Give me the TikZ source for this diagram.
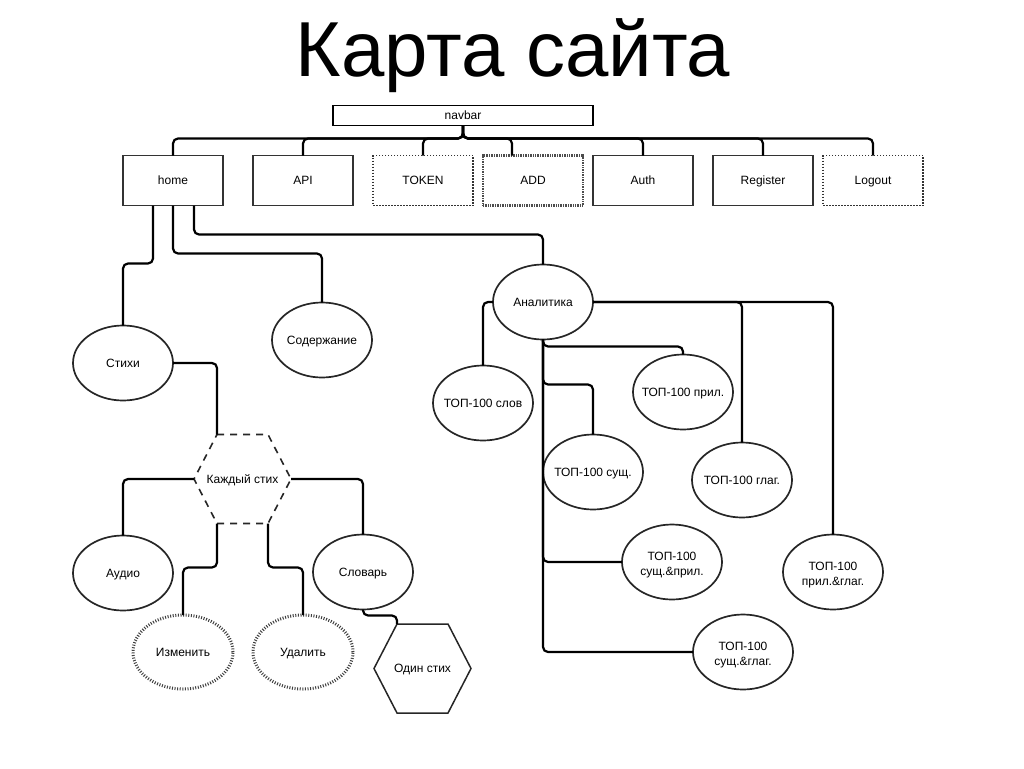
\documentclass[tikz,border=0pt]{standalone}
\usepackage{fontspec}
\setmainfont{Liberation Sans}
\usetikzlibrary{shapes.geometric,calc}
\begin{document}
\begin{tikzpicture}[x=1pt,y=-1pt,
  every node/.style={font=\fontsize{12}{14}\selectfont, inner sep=0pt, outer sep=0pt, text height=9.6pt, text depth=1.6pt},
  box/.style={draw=black!80, line width=1.6pt, minimum width=100pt, minimum height=50pt},
  dotbox/.style={draw=black!80, line width=1.5pt, dash pattern=on 1.5pt off 1.5pt, minimum width=100pt, minimum height=50pt},
  densebox/.style={draw=black!70, line width=2.2pt, dash pattern=on 1pt off 0.7pt, minimum width=100pt, minimum height=50pt},
  oval/.style={ellipse, draw=black!85, line width=1.7pt, minimum width=100pt, minimum height=75pt, align=center, inner xsep=-14pt},
  twoline/.style={text height=29.6pt, text depth=2.6pt, font=\fontsize{12}{15}\selectfont},
  dotoval/.style={ellipse, draw=black!75, line width=3pt, dash pattern=on 1pt off 1.6pt, minimum width=100pt, minimum height=74pt, inner xsep=-14pt},
  hexline/.style={draw=black!85, line width=1.5pt},
  hexdash/.style={draw=black!85, line width=1.6pt, dash pattern=on 7pt off 6pt},
  conn/.style={draw=black, line width=2.2pt, rounded corners=5pt},
]
\useasboundingbox (0,0) rectangle (1024,768);

% title
\node[font=\fontsize{78}{90}\selectfont, anchor=base, text height=, text depth=] (title) at (513,77) {Карта сайта};

% navbar and top row
\node[draw=black, line width=1.2pt, minimum width=260pt, minimum height=20pt] (navbar) at (463,115.5) {navbar};
\node[box] (home) at (173,180.5) {home};
\node[box] (api) at (303,180.5) {API};
\node[dotbox] (token) at (423,180.5) {TOKEN};
\node[densebox] (add) at (533,180.5) {ADD};
\node[box] (auth) at (643,180.5) {Auth};
\node[box] (reg) at (763,180.5) {Register};
\node[dotbox] (logout) at (873,180.5) {Logout};

\foreach \n in {home,api,token,auth,reg,logout}{
  \draw[conn] (navbar.south) -- ++(0,13) -| (\n.north);
}
\draw[conn] (navbar.south) -- ++(0,13) -| ($(add.north)+(-21,0)$);

% home subtree
\node[oval] (stihi) at (123,363) {Стихи};
\node[oval] (soder) at (322,340) {Содержание};
\node[oval] (anal) at (543,302) {Аналитика};

\draw[conn] ($(home.south)+(-20,0)$) -- ++(0,58) -| (stihi.north);
\draw[conn] (home.south) -- ++(0,48) -| (soder.north);
\draw[conn] ($(home.south)+(21,0)$) -- ++(0,29) -| (anal.north);

% analytics subtree
\node[oval] (slov) at (483,403) {ТОП-100 слов};
\node[oval] (pril) at (683,392) {ТОП-100 прил.};
\node[oval] (sush) at (593,472) {ТОП-100 сущ.};
\node[oval] (glag) at (742,480) {ТОП-100 глаг.};
\node[oval, twoline] (sushpril) at (672,562) {ТОП-100\\сущ.\&прил.};
\node[oval, twoline] (prilglag) at (833,572) {ТОП-100\\прил.\&глаг.};
\node[oval, twoline] (sushglag) at (743,652) {ТОП-100\\сущ.\&глаг.};

\draw[conn] (anal.west) -| (slov.north);
\draw[conn] (anal.east) -| (glag.north);
\draw[conn] (anal.east) -| (prilglag.north);
\draw[conn] (anal.south) -- ++(0,7) -| (pril.north);
\draw[conn] (anal.south) -- ++(0,45) -| (sush.north);
\draw[conn] (anal.south) |- (sushpril.west);
\draw[conn] (anal.south) |- (sushglag.west);

% poems subtree: hexagons drawn from named corner coordinates
\node (kazh) at (242.5,479) {Каждый стих};
\coordinate (kazh-l)  at ($(kazh)+(-48.5,0)$);
\coordinate (kazh-tl) at ($(kazh)+(-25.5,-44.5)$);
\coordinate (kazh-tr) at ($(kazh)+(25.5,-44.5)$);
\coordinate (kazh-r)  at ($(kazh)+(48.5,0)$);
\coordinate (kazh-br) at ($(kazh)+(25.5,44.5)$);
\coordinate (kazh-bl) at ($(kazh)+(-25.5,44.5)$);
\draw[hexdash] (kazh-tl) -- (kazh-tr) -- (kazh-r) -- (kazh-br) -- (kazh-bl) -- (kazh-l) -- cycle;

\node (odin) at (422.5,668.5) {Один стих};
\coordinate (odin-l)  at ($(odin)+(-48.5,0)$);
\coordinate (odin-tl) at ($(odin)+(-25.5,-44.5)$);
\coordinate (odin-tr) at ($(odin)+(25.5,-44.5)$);
\coordinate (odin-r)  at ($(odin)+(48.5,0)$);
\coordinate (odin-br) at ($(odin)+(25.5,44.5)$);
\coordinate (odin-bl) at ($(odin)+(-25.5,44.5)$);
\draw[hexline] (odin-tl) -- (odin-tr) -- (odin-r) -- (odin-br) -- (odin-bl) -- (odin-l) -- cycle;

\node[oval] (audio) at (123,573) {Аудио};
\node[oval] (slovar) at (363,572) {Словарь};
\node[dotoval] (izm) at (183,652) {Изменить};
\node[dotoval] (udal) at (303,652) {Удалить};

\draw[conn] (stihi.east) -| (kazh-tl);
\draw[conn] (kazh-l) -| (audio.north);
\draw[conn] (kazh-r) -| (slovar.north);
\draw[conn] (kazh-bl) -- ++(0,44) -| (izm.north);
\draw[conn] (kazh-br) -- ++(0,44) -| (udal.north);
\draw[conn] (slovar.south) -- ++(0,6) -| (odin-tl);
\end{tikzpicture}
\end{document}
